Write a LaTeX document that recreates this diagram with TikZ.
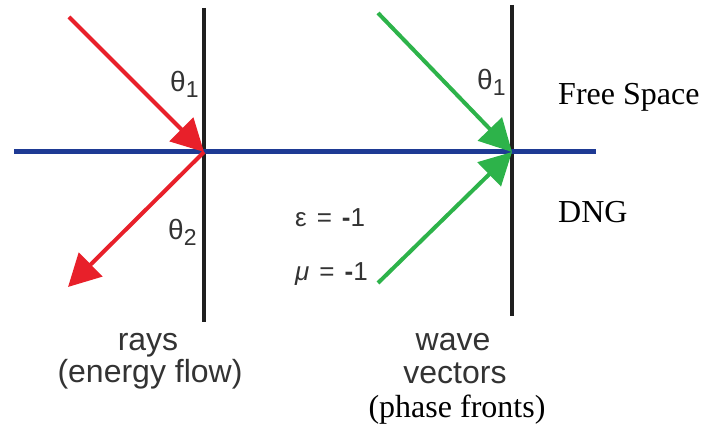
\documentclass[tikz,border=0pt]{standalone}
\usepackage{fontspec}
\setmainfont{Liberation Serif}
\setsansfont{Liberation Sans}
\usetikzlibrary{arrows.meta}
\definecolor{rayred}{HTML}{E8202A}
\definecolor{wavegreen}{HTML}{2DB34A}
\definecolor{ifblue}{HTML}{1E3A94}
\definecolor{txtgrey}{HTML}{333333}
\newcommand{\angsub}[1]{\raisebox{-6pt}{\fontsize{23}{23}\selectfont #1}}
\newcommand{\wsp}{\hspace{10pt}}
\begin{document}
\begin{tikzpicture}[x=1pt,y=-1pt,
  ray/.style={line width=4pt, rayred, -{Triangle[length=32pt,width=33pt]}},
  wavevec/.style={line width=4pt, wavegreen, -{Triangle[length=32pt,width=33pt]}},
  divider/.style={line width=3.5pt, black!88},
  iface/.style={line width=5pt, ifblue},
  sanslbl/.style={font=\sffamily\fontsize{32}{36}\selectfont, text=txtgrey, inner sep=0pt, anchor=base},
  seriflbl/.style={font=\fontsize{32}{36}\selectfont, text=black, inner sep=0pt},
  anglbl/.style={font=\sffamily\fontsize{28}{30}\selectfont, text=txtgrey, inner sep=0pt, anchor=base west},
  matlbl/.style={font=\sffamily\fontsize{26}{28}\selectfont, text=txtgrey, inner sep=0pt, anchor=base west}]
\useasboundingbox (0,0) rectangle (701,427);
% key points
\coordinate (L) at (204,152);
\coordinate (R) at (512,152);
\coordinate (ltop) at (204,8);
\coordinate (lbot) at (204,322);
\coordinate (rtop) at (512,5);
\coordinate (rbot) at (512,316);
\coordinate (bl) at (14,152);
\coordinate (br) at (596,152);
\coordinate (rin) at (69,17);
\coordinate (rout) at (68,287);
\coordinate (gin) at (378,13);
\coordinate (gup) at (378,283);
% lines
\draw[divider] (ltop) -- (lbot);
\draw[divider] (rtop) -- (rbot);
\draw[iface] (bl) -- (br);
% arrows
\draw[ray] (rin) -- (L);
\draw[ray] (L) -- (rout);
\draw[wavevec] (gin) -- (R);
\draw[wavevec] (gup) -- (R);
% angle labels
\node[anglbl] (th1l) at (170,92) {θ\angsub{1}};
\node[anglbl] (th2l) at (168,240) {θ\angsub{2}};
\node[anglbl] (th1r) at (477,90) {θ\angsub{1}};
% material labels
\node[matlbl] (eps) at (295,227) {ε\wsp=\wsp\textbf{-}1};
\node[matlbl] (mu) at (295,281) {\textit{μ}\wsp=\wsp\textbf{-}1};
% region labels
\node[seriflbl, anchor=base west] (free) at (558,105) {Free Space};
\node[seriflbl, anchor=base west] (dng) at (558,223) {DNG};
% bottom labels
\node[sanslbl] (rays) at (148,350) {rays};
\node[sanslbl] (energy) at (150,382) {(energy flow)};
\node[sanslbl] (wave) at (453,350) {wave};
\node[sanslbl] (vectors) at (455,383) {vectors};
\node[seriflbl, anchor=base] (phase) at (457,417) {(phase fronts)};
\end{tikzpicture}
\end{document}
